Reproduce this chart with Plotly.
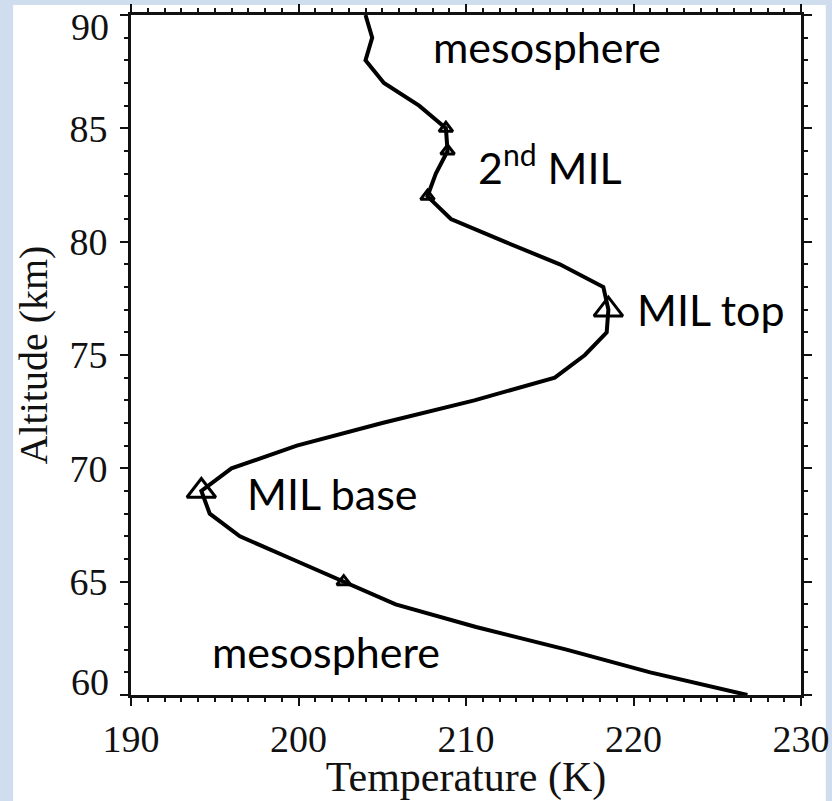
import plotly.graph_objects as go

# Temperature profile (K) at 1-km altitude steps
altitude_km = [90, 89, 88, 87, 86, 85, 84, 83, 82, 81, 80, 79, 78, 77, 76, 75,
               74, 73, 72, 71, 70, 69, 68, 67, 66, 65, 64, 63, 62, 61, 60]
temperature_k = [204.0, 204.4, 204.0, 205.1, 207.2, 208.8, 208.9, 208.2, 207.7,
                 209.1, 212.3, 215.6, 218.2, 218.5, 218.4, 217.1, 215.3, 210.5,
                 205.0, 199.9, 196.0, 194.2, 194.7, 196.5, 199.6, 202.7, 205.8,
                 210.6, 216.0, 221.0, 226.8]

# Marked levels (triangles)
marker_alt = [85, 84, 82, 77, 69, 65]
marker_kind = ["small", "small", "small", "large", "large", "small"]

# Text labels
label_text = ["mesosphere", "2<sup>nd</sup> MIL", "MIL top", "MIL base", "mesosphere"]
label_t = [207.9, 210.6, 220.1, 196.8, 194.7]
label_alt = [88.6, 83.4, 77.0, 68.9, 61.9]

x_ticks = [190, 200, 210, 220, 230]
y_ticks = [60, 65, 70, 75, 80, 85, 90]

lookup = dict(zip(altitude_km, temperature_k))
marker_t = [lookup[a] for a in marker_alt]
marker_size = [25 if k == "large" else 12 for k in marker_kind]

serif = "Liberation Serif, Times New Roman, serif"
ink = "#111111"

fig = go.Figure()
fig.add_trace(go.Scatter(
    x=temperature_k, y=altitude_km, mode="lines",
    line=dict(color="#000000", width=4), hoverinfo="skip", showlegend=False))
fig.add_trace(go.Scatter(
    x=marker_t, y=marker_alt, mode="markers",
    marker=dict(symbol="triangle-up-open", size=marker_size, color="#000000",
                opacity=1, line=dict(color="#000000", width=3)),
    opacity=1, showlegend=False))

for txt, tx, ty in zip(label_text, label_t, label_alt):
    fig.add_annotation(x=tx, y=ty, text=txt, showarrow=False, xanchor="left",
                       yanchor="middle",
                       font=dict(family="Lato, Carlito, sans-serif", size=43, color="#000000"))

# end tick labels of the altitude axis sit inside the frame (as in the original)
y_end_shift = {90: -12, 60: 13}
for v in y_ticks:
    if v in y_end_shift:
        fig.add_annotation(xref="paper", x=0, y=v, text=str(v), showarrow=False,
                           xanchor="right", yanchor="middle", xshift=-20,
                           yshift=y_end_shift[v],
                           font=dict(family=serif, size=38, color=ink))
y_ticktext = ["" if v in y_end_shift else str(v) for v in y_ticks]

# white slide panel behind the figure
fig.add_shape(type="rect", xref="paper", yref="paper",
              x0=-0.176, x1=1.037, y0=-0.16, y1=1.0147,
              fillcolor="white", line=dict(width=0), layer="below")

axis_common = dict(
    showgrid=False, zeroline=False, showline=True, linecolor=ink,
    linewidth=3, mirror="ticks", ticks="outside", ticklen=8, tickwidth=2,
    tickcolor=ink, ticklabeloverflow="allow",
    tickfont=dict(family=serif, size=38, color=ink),
)

fig.update_xaxes(range=[190, 230], tickvals=x_ticks,
                 minor=dict(dtick=1, ticks="outside", ticklen=4, tickwidth=2,
                            tickcolor=ink),
                 title=dict(text="Temperature (K)", standoff=0,
                            font=dict(family=serif, size=42, color=ink)),
                 ticklabelstandoff=0,
                 **axis_common)
fig.update_yaxes(range=[60, 90], tickvals=y_ticks, ticktext=y_ticktext,
                 minor=dict(dtick=1, ticks="outside", ticklen=4, tickwidth=2,
                            tickcolor=ink),
                 title=dict(text="Altitude (km)", standoff=10,
                            font=dict(family=serif, size=40, color=ink)),
                 ticklabelstandoff=5,
                 **axis_common)

fig.update_layout(
    width=832, height=801,
    margin=dict(l=131, r=31, t=15, b=106, autoexpand=False),
    paper_bgcolor="#d0ddee", plot_bgcolor="white",
)

fig.write_html("out.html")
